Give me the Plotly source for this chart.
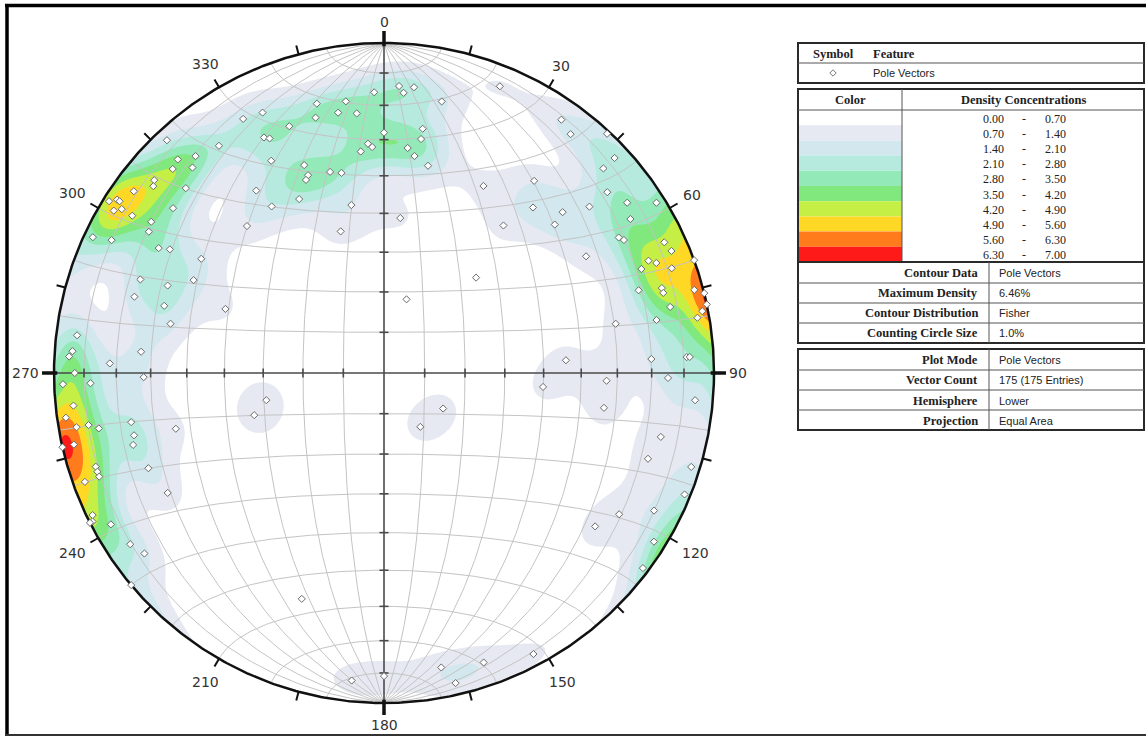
import numpy as np
import plotly.graph_objects as go

# ---------------------------------------------------------------- data
# Pole vectors (trend, plunge in degrees), lower hemisphere
trend = [
    358, 346, 352, 335, 331, 345, 350, 354, 339, 333, 334, 0, 317, 324, 356, 357,
    354, 319, 316, 332, 314, 317, 339, 345, 348, 339, 338, 310, 309, 306, 313, 325,
    334, 302, 303, 303, 301, 302, 302, 308, 326, 349, 303, 317, 301, 343, 295, 296,
    299, 300, 302, 291, 296, 292, 287, 287, 292, 283, 277, 274, 273, 275, 272, 270,
    269,
    3, 4, 6, 22, 12, 9, 9, 6, 8, 12, 35, 38, 43, 47, 47, 28, 38, 51, 55, 58, 42, 48,
    51, 6, 39, 49, 58, 60, 61, 65, 67, 60, 70, 67, 68, 68, 70, 44, 72, 73, 74, 75, 76,
    78, 77, 17, 79, 80, 79, 78, 86, 87, 87, 87, 91, 92,
    268, 268, 264, 262, 260, 260, 259, 259, 256, 254, 255, 257, 257, 252, 251, 250,
    248, 250, 241, 244, 243, 243, 241, 236, 233, 230, 200, 186, 180, 257, 252,
    121, 146, 95, 99, 95, 103, 108, 107, 112, 117, 121, 126, 122, 127, 152, 161, 169,
    167,
]
plunge = [
    16, 17, 18, 14, 13, 21, 21, 22, 21, 21, 22, 28, 4, 16, 31, 32,
    33, 14, 11, 28, 12, 16, 33, 37, 38, 36, 37, 10, 11, 7, 19, 33,
    41, 2, 4, 5, 5, 7, 11, 20, 39, 47, 17, 39, 18, 53, 3, 9,
    23, 26, 35, 22, 36, 30, 22, 31, 47, 34, 7, 6, 5, 27, 18, 7,
    28,
    14, 16, 14, 7, 17, 26, 29, 32, 34, 36, 7, 9, 1, 5, 10, 36, 27, 14, 11, 3, 33, 28,
    21, 51, 42, 32, 13, 19, 18, 7, 6, 30, 0, 14, 17, 12, 8, 57, 20, 13, 13, 3, 0,
    0, 12, 71, 2, 4, 17, 29, 44, 20, 9, 8, 15, 33,
    3, 12, 6, 3, 6, 10, 13, 23, 23, 22, 35, 0, 4, 9, 9, 9,
    24, 4, 26, 2, 1, 0, 6, 8, 10, 0, 28, 7, 9, 60, 56,
    73, 74, 50, 33, 6, 15, 17, 3, 2, 9, 18, 22, 4, 2, 4, 8, 10,
    4,
]

# Density concentration bins (% of total per 1% area)
bin_lo = ["0.00", "0.70", "1.40", "2.10", "2.80", "3.50", "4.20", "4.90", "5.60", "6.30"]
bin_hi = ["0.70", "1.40", "2.10", "2.80", "3.50", "4.20", "4.90", "5.60", "6.30", "7.00"]
band_colors = ["#ffffff", "#e6e9f1", "#d2e7ee", "#b6eadf", "#93e9b8",
               "#80e87d", "#c6ef45", "#ffd826", "#ff7b1c", "#ff1a1a"]

azimuth_labels = [0, 30, 60, 90, 120, 150, 180, 210, 240, 270, 300, 330]

info_rows_1 = [("Contour Data", "Pole Vectors"), ("Maximum Density", "6.46%"),
               ("Contour Distribution", "Fisher"), ("Counting Circle Size", "1.0%")]
info_rows_2 = [("Plot Mode", "Pole Vectors"), ("Vector Count", "175 (175 Entries)"),
               ("Hemisphere", "Lower"), ("Projection", "Equal Area")]

# ---------------------------------------------------------------- geometry
W, H = 1146, 736
CX, CY, R = 384.0, 373.0, 330.0          # net centre / radius in pixels
XR = [-CX / R, (W - CX) / R]
YR = [-(H - CY) / R, CY / R]


def proj_vec(e, n, d):
    """Lambert equal-area (Schmidt) projection of lower-hemisphere unit vectors."""
    s = 1.0 / np.sqrt(1.0 + d)
    return e * s, n * s


def proj_pole(tr, pl):
    t, p = np.radians(tr), np.radians(pl)
    return proj_vec(np.cos(p) * np.sin(t), np.cos(p) * np.cos(t), np.sin(p))


def px(x):
    return x / W


def py(y):
    return 1 - y / H


fig = go.Figure()

# ---------------------------------------------------------------- Fisher density
g = np.linspace(-1.04, 1.04, 281)
GX, GY = np.meshgrid(g, g)
rr = np.hypot(GX, GY)
sc = np.where(rr > 1, 1 / np.maximum(rr, 1e-9), 1.0)
gx, gy = GX * sc, GY * sc
r2 = gx ** 2 + gy ** 2
f = np.sqrt(np.clip(2 - r2, 0, None))
ve, vn, vd = gx * f, gy * f, 1 - r2

tr_r, pl_r = np.radians(trend), np.radians(plunge)
pe = np.cos(pl_r) * np.sin(tr_r)
pn = np.cos(pl_r) * np.cos(tr_r)
pdn = np.sin(pl_r)
kappa = 115.0
dens = np.zeros_like(GX)
for a, b, c in zip(pe, pn, pdn):
    dens += np.exp(kappa * (np.abs(ve * a + vn * b + vd * c) - 1))
dens *= kappa / len(trend)

fig.add_trace(go.Contour(
    x=g, y=g, z=dens, autocontour=False,
    contours=dict(start=0.7, end=6.3, size=0.7, coloring="fill", showlines=False),
    colorscale=[[i / 9, c] for i, c in enumerate(band_colors)],
    showscale=False, line=dict(width=0), hoverinfo="skip"))

# white mask outside the primitive circle
th = np.linspace(0, 2 * np.pi, 721)
mx = list(np.cos(th) * 1.001) + [1.07, 1.07, -1.07, -1.07, 1.07, 1.07, 1.001]
my = list(np.sin(th) * 1.001) + [0, -1.07, -1.07, 1.07, 1.07, 0, 0]
fig.add_trace(go.Scatter(x=mx, y=my, mode="lines", fill="toself", fillcolor="white",
                         line=dict(width=0), hoverinfo="skip"))

# ---------------------------------------------------------------- net grid
gxs, gys = [], []
phi = np.radians(np.linspace(0, 180, 181))
for dip in range(10, 90, 10):
    dd = np.radians(dip)
    for sgn in (1, -1):
        x, y = proj_vec(sgn * np.sin(phi) * np.cos(dd), np.cos(phi), np.sin(phi) * np.sin(dd))
        gxs += list(x) + [None]
        gys += list(y) + [None]
for alpha in list(range(10, 90, 10)) + list(range(100, 180, 10)):
    al = np.radians(alpha)
    x, y = proj_vec(np.sin(al) * np.cos(phi), np.full_like(phi, np.cos(al)), np.sin(al) * np.sin(phi))
    gxs += list(x) + [None]
    gys += list(y) + [None]
fig.add_trace(go.Scatter(x=gxs, y=gys, mode="lines", line=dict(color="#c4c4c4", width=1),
                         hoverinfo="skip"))

# cross-hair with 10-degree ticks
cx_, cy_ = [-1, 1, None, 0, 0, None], [0, 0, None, -1, 1, None]
tl = 4.5 / R
for pl in range(10, 90, 10):
    r = np.sqrt(1 - np.sin(np.radians(pl)))
    for s in (1, -1):
        cx_ += [s * r, s * r, None, -tl, tl, None]
        cy_ += [-tl, tl, None, s * r, s * r, None]
fig.add_trace(go.Scatter(x=cx_, y=cy_, mode="lines", line=dict(color="#4a4a4a", width=1.6),
                         hoverinfo="skip"))

# primitive circle and azimuth ticks
fig.add_trace(go.Scatter(x=np.cos(th), y=np.sin(th), mode="lines",
                         line=dict(color="#111111", width=2.5), hoverinfo="skip"))
tx, ty, bx, by = [], [], [], []
for az in range(0, 360, 15):
    a = np.radians(az)
    if az % 90 == 0:
        r0, r1 = 0.99, 1 + 12 / R
        bx += [r0 * np.sin(a), r1 * np.sin(a), None]
        by += [r0 * np.cos(a), r1 * np.cos(a), None]
    else:
        r0, r1 = 1.0, 1 + 9 / R
        tx += [r0 * np.sin(a), r1 * np.sin(a), None]
        ty += [r0 * np.cos(a), r1 * np.cos(a), None]
fig.add_trace(go.Scatter(x=tx, y=ty, mode="lines", line=dict(color="#111111", width=2),
                         hoverinfo="skip"))
fig.add_trace(go.Scatter(x=bx, y=by, mode="lines", line=dict(color="#111111", width=3.5),
                         hoverinfo="skip"))

# ---------------------------------------------------------------- poles
ppx, ppy = proj_pole(np.array(trend, float), np.array(plunge, float))
fig.add_trace(go.Scatter(x=ppx, y=ppy, mode="markers",
                         marker=dict(symbol="diamond", size=5.5, color="white",
                                     line=dict(color="#6a6a6a", width=1)),
                         hoverinfo="skip"))

annotations = []
for az in azimuth_labels:
    s = str(az)
    a = np.radians(az)
    half = abs(np.sin(a)) * 8.3 * len(s) / 2 + abs(np.cos(a)) * 5.5
    r = (346 + half) / R
    annotations.append(dict(x=r * np.sin(a), y=r * np.cos(a), xref="x", yref="y", text=s,
                            showarrow=False, xanchor="center", yanchor="middle",
                            font=dict(family="DejaVu Sans", size=14, color="#333333")))

# ---------------------------------------------------------------- side tables
shapes = []


def hline(y, x0, x1, w=1, c="#555555"):
    shapes.append(dict(type="line", xref="paper", yref="paper", x0=px(x0), x1=px(x1),
                       y0=py(y), y1=py(y), line=dict(color=c, width=w)))


def vline(x, y0, y1, w=1, c="#555555"):
    shapes.append(dict(type="line", xref="paper", yref="paper", x0=px(x), x1=px(x),
                       y0=py(y0), y1=py(y1), line=dict(color=c, width=w)))


def box(x0, y0, x1, y1):
    shapes.append(dict(type="rect", xref="paper", yref="paper", x0=px(x0), x1=px(x1),
                       y0=py(y1), y1=py(y0), line=dict(color="#2a2a2a", width=2)))


def label(x, y, text, anchor="left", bold=False, serif=True, size=12.5, color="#222222"):
    t = f"<b>{text}</b>" if bold else text
    fam = "Liberation Serif" if serif else "Liberation Sans"
    annotations.append(dict(x=px(x), y=py(y), xref="paper", yref="paper", text=t,
                            showarrow=False, xanchor=anchor, yanchor="middle",
                            font=dict(family=fam, size=size, color=color)))


L, Rt = 798, 1144
# symbol / feature box
box(L, 43, Rt, 83)
hline(63, L, Rt)
label(833, 54, "Symbol", "center", bold=True)
label(871, 54, "Feature", "left", bold=True)
d = 3.2
shapes.append(dict(type="path", xref="paper", yref="paper",
                   path=f"M {px(833)},{py(73 - d)} L {px(833 + d)},{py(73)} "
                        f"L {px(833)},{py(73 + d)} L {px(833 - d)},{py(73)} Z",
                   line=dict(color="#777777", width=1), fillcolor="white"))
label(871, 73.5, "Pole Vectors", serif=False, size=11)

# density concentration box
box(L, 89, Rt, 343)
hline(110, L, Rt)
vline(902, 89, 262)
label(850, 100, "Color", "center", bold=True)
label(1023, 100, "Density Concentrations", "center", bold=True)
row_h = (262 - 110) / 10
for i, (lo, hi, col) in enumerate(zip(bin_lo, bin_hi, band_colors)):
    y0 = 110 + i * row_h
    shapes.append(dict(type="rect", xref="paper", yref="paper", x0=px(L + 1), x1=px(902),
                       y0=py(y0 + row_h), y1=py(y0), line=dict(width=0), fillcolor=col,
                       layer="below"))
    yc = y0 + row_h / 2 + 1
    label(993, yc, lo, "center", size=12)
    label(1024, yc, "-", "center", size=12)
    label(1055, yc, hi, "center", size=12)
hline(262, L, Rt, w=2, c="#2a2a2a")
for y in (283, 303, 323):
    hline(y, L, Rt)
vline(989, 262, 343)
for i, (k_, v_) in enumerate(info_rows_1):
    yc = 272.5 + i * 20.2
    label(980, yc, k_, "right", bold=True)
    label(997, yc, v_, serif=False, size=11)

# plot settings box
box(L, 349, Rt, 430)
for y in (370, 390, 410):
    hline(y, L, Rt)
vline(989, 349, 430)
for i, (k_, v_) in enumerate(info_rows_2):
    yc = 360 + i * 20.3
    label(980, yc, k_, "right", bold=True)
    label(997, yc, v_, serif=False, size=11)

# outer frame
shapes.append(dict(type="line", xref="paper", yref="paper", x0=px(7), x1=px(7),
                   y0=py(4), y1=py(736), line=dict(color="#000000", width=3.5)))
shapes.append(dict(type="line", xref="paper", yref="paper", x0=px(5), x1=px(1146),
                   y0=py(5.5), y1=py(5.5), line=dict(color="#000000", width=3.5)))
shapes.append(dict(type="line", xref="paper", yref="paper", x0=px(5), x1=px(1146),
                   y0=py(735), y1=py(735), line=dict(color="#333333", width=2)))

fig.update_layout(
    width=W, height=H, margin=dict(l=0, r=0, t=0, b=0),
    paper_bgcolor="white", plot_bgcolor="white", showlegend=False,
    xaxis=dict(range=XR, visible=False, fixedrange=True, domain=[0, 1]),
    yaxis=dict(range=YR, visible=False, fixedrange=True, domain=[0, 1]),
    shapes=shapes, annotations=annotations,
)

fig.write_html("out.html", config={"displayModeBar": False})
